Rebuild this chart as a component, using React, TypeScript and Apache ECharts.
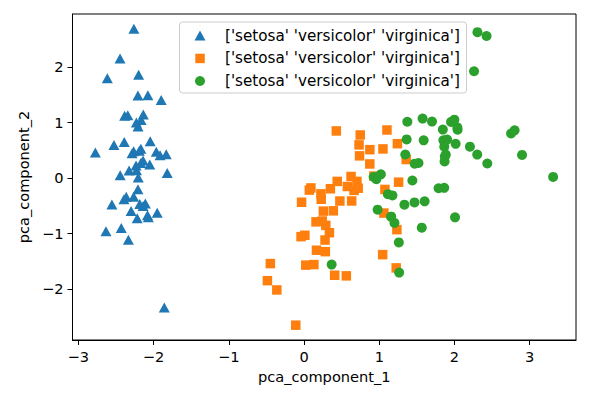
import React, { useEffect, useRef } from "react";
import * as echarts from "echarts";

const setosaPC1 = [-2.265, -2.081, -2.364, -2.299, -2.39, -2.076, -2.444, -2.233, -2.335, -2.184, -2.166, -2.326, -2.218, -2.633, -2.199, -2.262, -2.208, -2.19, -1.899, -2.343, -1.914, -2.207, -2.774, -1.819, -2.227, -1.952, -2.051, -2.169, -2.14, -2.265, -2.14, -1.832, -2.615, -2.446, -2.11, -2.208, -2.045, -2.527, -2.43, -2.17, -2.286, -1.858, -2.554, -1.964, -2.137, -2.07, -2.385, -2.394, -2.229, -2.204];
const setosaPC2 = [0.48, -0.674, -0.342, -0.597, 0.647, 1.489, 0.048, 0.223, -1.115, -0.469, 1.044, 0.133, -0.729, -0.962, 1.86, 2.686, 1.484, 0.489, 1.405, 1.128, 0.409, 0.924, 0.458, 0.086, 0.137, -0.626, 0.242, 0.527, 0.313, -0.338, -0.505, 0.424, 1.794, 2.151, -0.46, -0.206, 0.662, 0.592, -0.904, 0.269, 0.442, -2.337, -0.479, 0.472, 1.142, -0.711, 1.12, -0.386, 0.998, 0.009];

const versicolorPC1 = [1.102, 0.731, 1.241, 0.407, 1.075, 0.389, 0.747, -0.487, 0.928, 0.011, -0.11, 0.441, 0.562, 0.72, -0.033, 0.875, 0.35, 0.159, 1.225, 0.165, 0.738, 0.476, 1.234, 0.633, 0.703, 0.874, 1.257, 1.358, 0.665, -0.04, 0.131, 0.023, 0.242, 1.061, 0.224, 0.429, 1.049, 1.045, 0.07, 0.283, 0.279, 0.625, 0.337, -0.362, 0.289, 0.091, 0.228, 0.576, -0.448, 0.257];
const versicolorPC2 = [0.863, 0.595, 0.616, -1.754, -0.208, -0.593, 0.773, -1.852, 0.032, -1.034, -2.654, -0.063, -1.765, -0.186, -0.439, 0.509, -0.196, -0.792, -1.622, -1.303, 0.397, -0.417, -0.933, -0.416, -0.063, 0.251, -0.077, 0.331, -0.226, -1.059, -1.562, -1.572, -0.777, -0.634, -0.288, 0.846, 0.522, -1.383, -0.22, -1.329, -1.12, 0.025, -0.988, -2.019, -0.856, -0.181, -0.385, -0.155, -1.544, -0.599];

const virginicaPC1 = [1.845, 1.158, 2.205, 1.44, 1.868, 2.752, 0.367, 2.302, 2.007, 2.26, 1.364, 1.603, 1.884, 1.26, 1.468, 1.59, 1.471, 2.426, 3.311, 1.264, 2.038, 0.978, 2.898, 1.334, 1.701, 1.954, 1.175, 1.021, 1.788, 1.864, 2.436, 2.305, 1.863, 1.114, 1.202, 2.799, 1.576, 1.346, 0.925, 1.852, 2.015, 1.902, 1.158, 2.041, 1.998, 1.871, 1.565, 1.521, 1.373, 0.961];
const virginicaPC2 = [0.87, -0.699, 0.562, -0.047, 0.295, 0.8, -1.562, 0.42, -0.711, 1.921, 0.693, -0.422, 0.419, -1.162, -0.442, 0.676, 0.256, 2.557, 0.018, -1.707, 0.91, -0.572, 0.414, -0.482, 1.014, 1.008, -0.316, 0.064, -0.187, 0.562, 0.259, 2.626, -0.179, -0.293, -0.811, 0.857, 1.069, 0.422, 0.017, 0.676, 0.614, 0.69, -0.699, 0.868, 1.049, 0.387, -0.897, 0.269, 1.011, -0.024];

const classNames = ["setosa", "versicolor", "virginica"];
const legendLabel = "['setosa' 'versicolor' 'virginica']";
const xTicks = [-3, -2, -1, 0, 1, 2, 3];
const yTicks = [-2, -1, 0, 1, 2];

const FONT = '"DejaVu Sans", sans-serif';
const FS = 14.6;
const LFS = 15.2;
const zip = (a: number[], b: number[]) => a.map((v, i) => [v, b[i]]);
const fmt = (v: number) => String(v).replace("-", "\u2212");

export default function App() {
  const ref = useRef<HTMLDivElement>(null);
  useEffect(() => {
    if (!ref.current) return;
    const chart = echarts.init(ref.current, null, { renderer: "svg" });
    const axisCommon = {
      type: "value" as const,
      nameLocation: "middle" as const,
      nameTextStyle: { fontFamily: FONT, fontSize: FS, color: "#000" },
      axisLine: { show: true, onZero: false, lineStyle: { color: "#000", width: 1 } },
      axisTick: { show: true, inside: false, length: 5, lineStyle: { color: "#000", width: 1 } },
      axisLabel: { fontFamily: FONT, fontSize: FS, color: "#000", margin: 9, formatter: fmt },
      splitLine: { show: false },
    };
    const lx = 179.5, ly = 22, lw = 287, lh = 71;
    const rows = [35.7, 58.4, 81];
    chart.setOption({
      animation: false,
      grid: { left: 72.5, right: 16, top: 14, bottom: 56, show: true, borderColor: "#000", borderWidth: 1 },
      xAxis: {
        ...axisCommon,
        min: -3.078,
        max: 3.615,
        name: "pca_component_1",
        nameGap: 29,
        axisTick: { ...axisCommon.axisTick, customValues: xTicks },
        axisLabel: { ...axisCommon.axisLabel, customValues: xTicks },
      },
      yAxis: {
        ...axisCommon,
        min: -2.921,
        max: 2.953,
        name: "pca_component_2",
        nameGap: 38,
        axisTick: { ...axisCommon.axisTick, customValues: yTicks },
        axisLabel: { ...axisCommon.axisLabel, customValues: yTicks },
      },
      series: [
        { name: classNames[0], type: "scatter", symbol: "triangle", symbolSize: [11, 10], itemStyle: { color: "#1f77b4", opacity: 1 }, data: zip(setosaPC1, setosaPC2) },
        { name: classNames[1], type: "scatter", symbol: "rect", symbolSize: 9.5, itemStyle: { color: "#ff7f0e", opacity: 1 }, data: zip(versicolorPC1, versicolorPC2) },
        { name: classNames[2], type: "scatter", symbol: "circle", symbolSize: 10, itemStyle: { color: "#2ca02c", opacity: 1 }, data: zip(virginicaPC1, virginicaPC2) },
      ],
      graphic: [
        {
          type: "group",
          z: 100,
          children: [
            { type: "rect", shape: { x: lx, y: ly, width: lw, height: lh, r: 3 }, style: { fill: "rgba(255,255,255,0.8)", stroke: "#cccccc", lineWidth: 1 } },
            { type: "polygon", shape: { points: [[200, rows[0] - 5.2], [205.5, rows[0] + 4.8], [194.5, rows[0] + 4.8]] }, style: { fill: "#1f77b4" } },
            { type: "rect", shape: { x: 195.3, y: rows[1] - 4.7, width: 9.5, height: 9.5 }, style: { fill: "#ff7f0e" } },
            { type: "circle", shape: { cx: 200, cy: rows[2], r: 5 }, style: { fill: "#2ca02c" } },
            ...rows.map((y) => ({
              type: "text",
              style: { text: legendLabel, x: 225, y, font: `${LFS}px ${FONT}`, fill: "#000", verticalAlign: "middle", align: "left" },
            })),
          ],
        },
      ],
    });
    return () => chart.dispose();
  }, []);
  return <div ref={ref} style={{ width: 592, height: 396, margin: -8 }} />;
}
